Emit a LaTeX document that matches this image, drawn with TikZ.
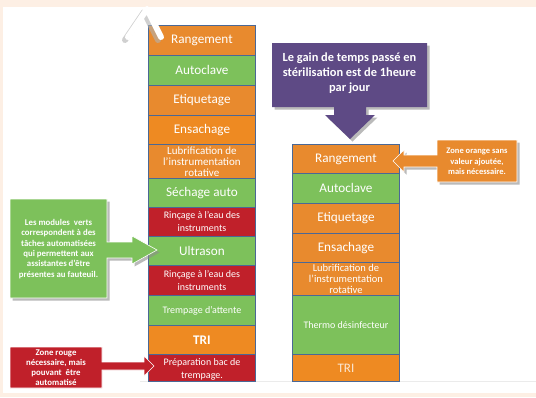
\documentclass[tikz,border=0pt]{standalone}
\usepackage{fontspec}
\setmainfont{Carlito}
\usetikzlibrary{shadows}
\definecolor{cor}{HTML}{E88A2E}
\definecolor{cor2}{HTML}{EE8A22}
\definecolor{cgr}{HTML}{7DC15B}
\definecolor{cre}{HTML}{C0202A}
\definecolor{cpu}{HTML}{5E4A85}
\definecolor{cbd}{HTML}{4A6896}
\definecolor{cpeach}{HTML}{FDEFE4}
\newcommand\mkcell[7]{%
  \node[cell, fill=#4, minimum height=#3pt, font=#6] (#1) at (#7,#2) {#5};}
\begin{document}
\begin{tikzpicture}[x=1pt,y=-1pt,
  cell/.style={draw=cbd, line width=0.9pt, text=white, anchor=north west,
    inner sep=0pt, align=center, minimum width=107pt},
  shad/.style={drop shadow={shadow xshift=2.5pt, shadow yshift=-2.5pt, fill=black!45, opacity=0.6}},
  ctext/.style={text=white, align=center, inner sep=0pt, font=\bfseries\fontsize{8.8}{10.3}\selectfont}]
\useasboundingbox (0,0) rectangle (536,397);
\fill[cpeach] (0,0) rectangle (536,397);
\fill[white] (3,7) rectangle (536,393);
\draw[black!8, line width=0.6pt] (140,381.5) -- (536,381.5);

% left column
\mkcell{la}{25}{30}{cor}{Rangement}{\fontsize{13.2}{14}\selectfont}{148}
\mkcell{lb}{55}{30}{cgr}{Autoclave}{\fontsize{13.2}{14}\selectfont}{148}
\mkcell{lc}{85}{30}{cor}{Etiquetage}{\fontsize{13.2}{14}\selectfont}{148}
\mkcell{ld}{115}{29}{cor2}{Ensachage}{\fontsize{13.2}{14}\selectfont}{148}
\mkcell{le}{144}{34}{cor}{Lubrification de\\l’instrumentation\\rotative}{\fontsize{11}{11}\selectfont}{148}
\mkcell{lf}{178}{29}{cgr}{Séchage auto}{\fontsize{13.2}{14}\selectfont}{148}
\mkcell{lg}{207}{29}{cre}{Rinçage à l’eau des\\instruments}{\fontsize{10}{13}\selectfont}{148}
\mkcell{lh}{236}{29}{cgr}{Ultrason}{\fontsize{13.2}{14}\selectfont}{148}
\mkcell{li}{265}{30}{cre}{Rinçage à l’eau des\\instruments}{\fontsize{10}{13}\selectfont}{148}
\mkcell{lj}{295}{30}{cgr}{Trempage d’attente}{\fontsize{10}{12}\selectfont}{148}
\mkcell{lk}{325}{29}{cor2}{TRI}{\bfseries\fontsize{13.2}{14}\selectfont}{148}
\mkcell{ll}{354}{27}{cre}{\strut Préparation bac de\\trempage.}{\fontsize{10}{13}\selectfont}{148}

% right column
\mkcell{ra}{144}{29}{cor}{Rangement}{\fontsize{13.2}{14}\selectfont}{292}
\mkcell{rb}{173}{30}{cgr}{Autoclave}{\fontsize{13.2}{14}\selectfont}{292}
\mkcell{rc}{203}{30}{cor}{Etiquetage}{\fontsize{13.2}{14}\selectfont}{292}
\mkcell{rd}{233}{29}{cor}{Ensachage}{\fontsize{13.2}{14}\selectfont}{292}
\mkcell{re}{262}{33}{cor}{Lubrification de\\l’instrumentation\\rotative}{\fontsize{10.5}{11}\selectfont}{292}
\mkcell{rf}{295}{59}{cgr}{Thermo désinfecteur}{\fontsize{10}{11}\selectfont}{292}
\node[cell, fill=cor2, minimum height=27pt, text=white!80!cor, font=\fontsize{13}{14}\selectfont] (rg) at (292,354) {TRI};

% purple callout
\path[fill=cpu, shad] (272,43) -- (427,43) -- (427,107) -- (366,107) -- (366,115) -- (375,115)
  -- (350,139) -- (325,115) -- (334,115) -- (334,107) -- (272,107) -- cycle;
\node[ctext, font=\bfseries\fontsize{12.4}{15}\selectfont] (pt) at (349.5,73)
  {Le gain de temps passé en\\stérilisation est de 1heure\\par jour};

% orange callout
\path[fill=cor, draw=white, line width=0.6pt, shad] (517,140) -- (517,182) -- (437,182) -- (437,167) -- (404,167) -- (404,172)
  -- (393,161) -- (404,150) -- (404,155) -- (437,155) -- (437,140) -- cycle;
\node[ctext, font=\bfseries\fontsize{8.5}{10.5}\selectfont] (ot) at (477,161.5)
  {Zone orange sans\\valeur ajoutée,\\mais nécessaire.};

% green callout
\path[fill=cgr, draw=white, line width=0.6pt, shad] (10,199) -- (107,199) -- (107,242) -- (132,242) -- (132,236)
  -- (157,250) -- (132,264) -- (132,258) -- (107,258) -- (107,298) -- (10,298) -- cycle;
\node[ctext] (gt) at (58.5,249)
  {Les modules\ \ verts\\correspondent à des\\tâches automatisées\\qui permettent aux\\assistantes d’être\\présentes au fauteuil.};

% red callout
\path[fill=cre, draw=white, line width=0.6pt] (10,347) -- (102,347) -- (102,362) -- (144,362) -- (144,356)
  -- (154,366) -- (144,376) -- (144,370) -- (102,370) -- (102,388) -- (10,388) -- cycle;
\node[ctext, font=\bfseries\fontsize{8.8}{10}\selectfont] (rt) at (56,367.5)
  {Zone rouge\\nécessaire, mais\\pouvant\ \ être\\automatisé};

% white pointer artefact at top
\draw[black!30, line width=6pt, line cap=round, line join=round, opacity=0.6] (125,40) -- (144,12) -- (158,40);
\draw[white, line width=6pt, line cap=round, line join=round] (128,37) -- (147,9) -- (161,37);
\end{tikzpicture}
\end{document}
